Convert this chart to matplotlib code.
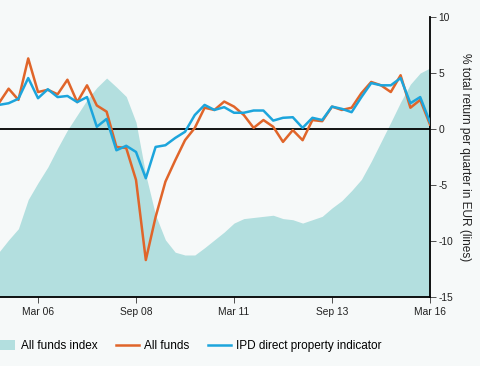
import numpy as np
import matplotlib
matplotlib.use("Agg")
import matplotlib.pyplot as plt
from matplotlib.patches import Patch
from matplotlib.lines import Line2D

plt.rcParams["font.family"] = ["Liberation Sans", "DejaVu Sans"]
plt.rcParams["axes.unicode_minus"] = False

# quarterly, Mar 05 .. Mar 16
quarters = np.arange(45)
tick_pos = [4, 14, 24, 34, 44]
tick_labels = ["Mar 06", "Sep 08", "Mar 11", "Sep 13", "Mar 16"]

all_funds_index = [
    -11.0, -9.9, -8.9, -6.3, -4.8, -3.4, -1.7, -0.1, 1.25, 2.6,
    3.7, 4.55, 3.75, 2.9, 0.6, -4.1, -7.7, -9.9, -11.0, -11.25,
    -11.25, -10.6, -9.9, -9.2, -8.4, -8.0, -7.9, -7.8, -7.7, -8.0,
    -8.1, -8.4, -8.1, -7.8, -7.05, -6.4, -5.5, -4.5, -2.9, -1.15,
    0.6, 2.4, 4.0, 5.0, 5.45,
]
all_funds = [
    2.3, 3.6, 2.6, 6.3, 3.3, 3.5, 3.1, 4.4, 2.4, 3.9,
    2.1, 1.55, -1.6, -1.7, -4.55, -11.7, -7.85, -4.7, -2.8, -1.0,
    0.1, 1.9, 1.7, 2.45, 2.0, 1.25, 0.1, 0.8, 0.2, -1.15,
    -0.1, -1.0, 0.8, 0.7, 2.0, 1.7, 1.9, 3.2, 4.2, 3.9,
    3.3, 4.8, 1.9, 2.6, 0.4,
]
ipd_direct = [
    2.15, 2.3, 2.7, 4.55, 2.75, 3.55, 2.85, 2.95, 2.4, 2.85,
    0.2, 0.9, -1.9, -1.5, -2.05, -4.4, -1.6, -1.45, -0.8, -0.25,
    1.25, 2.15, 1.7, 1.95, 1.45, 1.45, 1.65, 1.65, 0.75, 1.0,
    1.05, 0.1, 1.0, 0.8, 2.0, 1.8, 1.5, 2.85, 4.1, 3.9,
    3.9, 4.55, 2.3, 2.85, 0.6,
]

bg = "#f6f9f9"
teal = "#b3dfdf"
orange = "#e0652a"
blue = "#1ca5dc"

fig = plt.figure(figsize=(4.8, 3.66), dpi=100, facecolor=bg)
ax = fig.add_axes([0.0, 1 - 297 / 366, 430 / 480, 280 / 366])
ax.set_facecolor(bg)

ax.fill_between(quarters, -15, all_funds_index, color=teal, lw=0, zorder=1)
ax.axhline(0, color="black", lw=1.3, zorder=2)
ax.plot(quarters, all_funds, color=orange, lw=1.8, zorder=3)
ax.plot(quarters, ipd_direct, color=blue, lw=1.8, zorder=4)

ax.set_xlim(0.12, 44)
ax.set_ylim(-15, 10)

for side in ["top", "left"]:
    ax.spines[side].set_visible(False)
for side in ["bottom", "right"]:
    ax.spines[side].set_linewidth(1.3)
    ax.spines[side].set_color("black")

ax.set_xticks(tick_pos)
ax.set_xticklabels(tick_labels)
ax.yaxis.tick_right()
ax.yaxis.set_label_position("right")
ax.set_yticks([10, 5, 0, -5, -10, -15])
ax.tick_params(axis="both", labelsize=7.4, colors="#333333", length=4,
               width=0.6, pad=3)
ax.tick_params(axis="x", labelcolor="#222222")
ax.tick_params(axis="y", labelcolor="#222222", pad=2)
ax.set_ylabel("% total return per quarter in EUR (lines)", rotation=270,
              fontsize=8.6, color="#222222", labelpad=13)

handles = [
    Patch(facecolor=teal, edgecolor="none", label="All funds index"),
    Line2D([], [], color=orange, lw=1.8, label="All funds"),
    Line2D([], [], color=blue, lw=1.8, label="IPD direct property indicator"),
]
fig.legend(handles=handles, loc="center left",
           bbox_to_anchor=(-7 / 480, 1 - 346 / 366), ncol=3, frameon=False,
           fontsize=8.5, handlelength=1.9, handleheight=0.9,
           handletextpad=0.45, columnspacing=1.6, borderpad=0,
           borderaxespad=0)

fig.savefig("out.png", dpi=100, facecolor=bg)
